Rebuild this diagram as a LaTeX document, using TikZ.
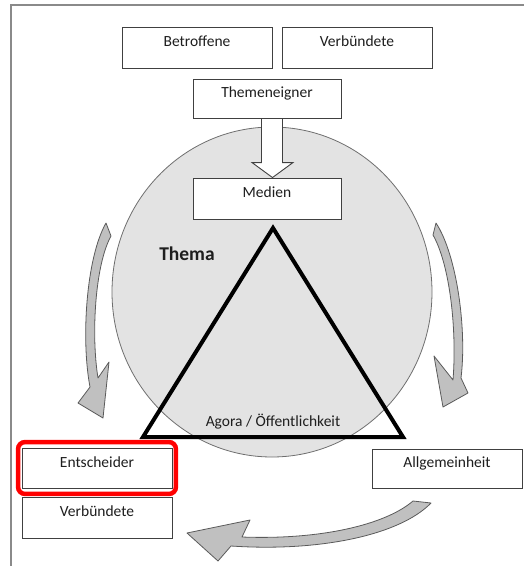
\documentclass[tikz,border=0pt]{standalone}
\usepackage{fontspec}
\setmainfont{Carlito}
\usetikzlibrary{fit,calc}
\definecolor{boxline}{HTML}{404040}
\definecolor{txt}{HTML}{1E1E1E}
\definecolor{circfill}{HTML}{E3E3E3}
\definecolor{circline}{HTML}{6E6E6E}
\definecolor{arrfill}{HTML}{C0C0C0}
\definecolor{arrline}{HTML}{5A5A5A}
\definecolor{frameline}{HTML}{8A8A8A}
\definecolor{hilite}{HTML}{FF0000}
\begin{document}
\begin{tikzpicture}[x=1pt,y=-1pt,
  box/.style={draw=boxline, line width=0.9pt, fill=white, minimum width=150pt, minimum height=41pt,
    inner sep=0pt, text height=10pt, text depth=12pt, text=txt, font=\fontsize{15.5}{18}\selectfont},
  blockarrow/.style={draw=boxline, line width=0.9pt, fill=white, line join=miter},
  curvearrow/.style={draw=arrline, line width=0.8pt, fill=arrfill, line join=round},
  tri/.style={draw=black, line width=4pt, line join=miter, miter limit=20},
  hl/.style={draw=hilite, line width=4.5pt, rounded corners=7pt, inner xsep=3.5pt, inner ysep=5.5pt},
  lbl/.style={text=txt, inner sep=0pt, font=\fontsize{15.5}{18}\selectfont}]
\useasboundingbox (0,0) rectangle (524,566);
% frame
\draw[frameline, line width=1.5pt] (11,566) -- (11,5) -- (524,5);
% circle
\draw[draw=circline, line width=0.8pt, fill=circfill] (272,292) ellipse [x radius=160pt, y radius=165pt];
% boxes
\node[box] (bet) at (197,47.5) {Betroffene};
\node[box] (verT) at (357,47.5) {Verbündete};
\node[box, minimum width=148pt, minimum height=39pt] (them) at (267,98.5) {Themeneigner};
\node[box, minimum width=148pt] (med) at (267,198.5) {Medien};
\node[box, minimum height=40pt] (ent) at (97,468) {Entscheider};
\node[box] (verB) at (97,517.5) {Verbündete};
\node[box, minimum height=39pt] (allg) at (447,468.5) {Allgemeinheit};
% block arrow Themeneigner -> Medien
\draw[blockarrow] ($(them.south)+(-5.5,0)$) -- ($(med.north)+(-5.5,-15)$) -- ($(med.north)+(-15,-15)$)
  -- ($(med.north)+(5.5,0)$) -- ($(med.north)+(26,-15)$) -- ($(med.north)+(15.5,-15)$)
  -- ($(them.south)+(15.5,0)$) -- cycle;
% triangle
\draw[tri] (273,228) -- (403,437) -- (143,437) -- cycle;
% labels
\node[text=txt, inner sep=0pt, font=\fontsize{19.5}{22}\selectfont\bfseries] (thema) at (187,254) {Thema};
\node[lbl] (agora) at (273,422) {Agora / Öffentlichkeit};
% highlight
\node[hl, fit=(ent)] (hlent) {};
% curved arrows
\draw[curvearrow] (106,223) -- (111,236) .. controls (95,265) and (91,335) .. (98,378) -- (109,362)
  -- (103,418) -- (78,403) -- (90,387) .. controls (81,340) and (86,258) .. (106,223) -- cycle;
\draw[curvearrow] (436,223) .. controls (457,255) and (467,330) .. (461,378) -- (468,393) -- (443,407)
  -- (434,356) -- (453,380) .. controls (457,330) and (450,265) .. (433,235) -- cycle;
\draw[curvearrow] (413,501) -- (431,503) .. controls (400,535) and (320,552) .. (231,546) -- (218,561)
  -- (187,533) -- (250,520) -- (242,537) .. controls (320,540) and (385,525) .. (413,501) -- cycle;
\end{tikzpicture}
\end{document}
